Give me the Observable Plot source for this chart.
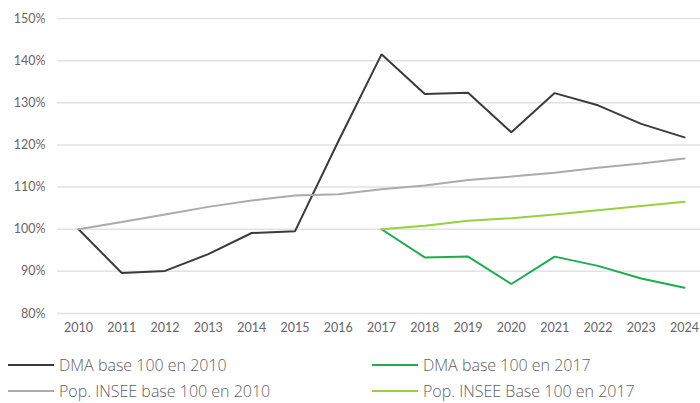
<!DOCTYPE html>
<html><head><meta charset="utf-8">
<script src="https://cdn.jsdelivr.net/npm/d3@7"></script>
<script src="https://cdn.jsdelivr.net/npm/@observablehq/plot@0.6"></script>
<style>
body{margin:0;background:#fff;font-family:Lato,"Open Sans",sans-serif;overflow:hidden;}
#legend{position:relative;height:58px;color:#5f5f5f;font-size:16px;font-family:"Open Sans",sans-serif;font-weight:300;}
.item{position:absolute;display:flex;align-items:center;white-space:nowrap;line-height:20px;}
.sw{width:46px;height:2px;margin-right:5px;}
</style></head><body>
<div id="chart"></div>
<div id="legend"></div>
<script>
const years = [2010,2011,2012,2013,2014,2015,2016,2017,2018,2019,2020,2021,2022,2023,2024];
const dma2010 = [100,89.6,90.1,94.1,99.1,99.5,120.8,141.5,132.1,132.4,123.0,132.3,129.4,125.0,121.8];
const pop2010 = [100,101.7,103.5,105.3,106.8,108.0,108.3,109.5,110.4,111.7,112.5,113.4,114.6,115.6,116.8];
const years2017 = [2017,2018,2019,2020,2021,2022,2023,2024];
const dma2017 = [100,93.3,93.5,87.0,93.5,91.3,88.3,86.1];
const pop2017 = [100,100.8,102.0,102.6,103.5,104.5,105.5,106.5];
const seriesNames = ["DMA base 100 en 2010","Pop. INSEE base 100 en 2010","DMA base 100 en 2017","Pop. INSEE Base 100 en 2017"];
const seriesColors = ["#3b3b3b","#ababab","#1aae4e","#96d13e"];
const yTicks = [80,90,100,110,120,130,140,150];

const rows = [];
years.forEach((y,i)=>{rows.push({year:y,v:dma2010[i],s:seriesNames[0]});});
years.forEach((y,i)=>{rows.push({year:y,v:pop2010[i],s:seriesNames[1]});});
years2017.forEach((y,i)=>{rows.push({year:y,v:dma2017[i],s:seriesNames[2]});});
years2017.forEach((y,i)=>{rows.push({year:y,v:pop2017[i],s:seriesNames[3]});});

const chart = Plot.plot({
  width:700, height:345,
  marginTop:18, marginBottom:32, marginLeft:57, marginRight:0,
  insetLeft:21, insetRight:16,
  style:{fontFamily:"Lato, 'Open Sans', sans-serif", fontSize:"12px", color:"#666", background:"#fff"},
  x:{domain:[2010,2024], ticks:years, tickFormat:d=>String(d), tickSize:0, tickPadding:10, label:null},
  y:{domain:[80,150], ticks:yTicks, tickFormat:d=>d+"%", tickSize:0, tickPadding:12, label:null},
  color:{domain:seriesNames, range:seriesColors},
  marks:[
    Plot.ruleY(yTicks,{stroke:"#e2e2e2", strokeWidth:1.5}),
    Plot.axisX({ticks:years, tickFormat:d=>String(d), tickSize:0, tickPadding:10, fill:"#666", fontSize:12.5}),
    Plot.axisY({ticks:yTicks, tickFormat:d=>d+"%", tickSize:0, tickPadding:12, fill:"#666", fontSize:12.5}),
    Plot.line(rows,{x:"year", y:"v", z:"s", stroke:"s", strokeWidth:2, strokeLinejoin:"miter"})
  ]
});
document.getElementById("chart").appendChild(chart);

const leg = document.getElementById("legend");
const pos = [[8,20],[8,46],[372,20],[372,46]];
seriesNames.forEach((n,i)=>{
  const d = document.createElement("div");
  d.className="item";
  d.style.left=pos[i][0]+"px"; d.style.top=(pos[i][1]-10)+"px";
  d.innerHTML = `<span class="sw" style="background:${seriesColors[i]}"></span><span>${n}</span>`;
  leg.appendChild(d);
});
</script>
</body></html>
